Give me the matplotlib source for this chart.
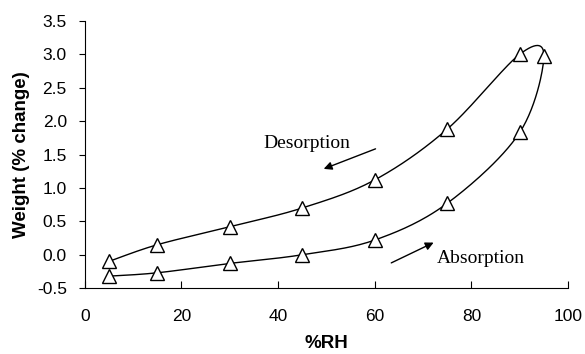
import numpy as np
import matplotlib
matplotlib.use("Agg")
import matplotlib.pyplot as plt

# sorption isotherm: absorption up to 95 %RH, then desorption back down
rh_abs = [5, 15, 30, 45, 60, 75, 90, 95]
wt_abs = [-0.32, -0.27, -0.13, 0.0, 0.22, 0.77, 1.83, 2.98]
rh_des = [90, 75, 60, 45, 30, 15, 5]
wt_des = [3.0, 1.88, 1.12, 0.70, 0.42, 0.15, -0.10]


def smooth(x, y, n=30):
    # uniform Catmull-Rom through the points (same look as a spreadsheet "smoothed line")
    p = np.column_stack([x, y]).astype(float)
    p = np.vstack([p[0], p, p[-1]])
    t = np.linspace(0, 1, n)[:, None]
    out = []
    for i in range(1, len(p) - 2):
        p0, p1, p2, p3 = p[i - 1], p[i], p[i + 1], p[i + 2]
        seg = 0.5 * (2 * p1 + (-p0 + p2) * t + (2 * p0 - 5 * p1 + 4 * p2 - p3) * t ** 2
                     + (-p0 + 3 * p1 - 3 * p2 + p3) * t ** 3)
        out.append(seg)
    out = np.vstack(out)
    return out[:, 0], out[:, 1]


plt.rcParams["font.family"] = ["Liberation Sans", "DejaVu Sans"]
fig = plt.figure(figsize=(5.85, 3.54), dpi=100)
ax = fig.add_axes([0.145, 0.186, 0.826, 0.755])

sx, sy = smooth(rh_abs + rh_des, wt_abs + wt_des)
ax.plot(sx, sy, color="black", lw=1.0)
ax.plot(rh_abs + rh_des, wt_abs + wt_des, ls="none", marker="^", ms=9.5,
        mfc="white", mec="black", mew=1.0)

ax.set_xlim(0, 100)
ax.set_ylim(-0.5, 3.5)
ax.set_xticks(range(0, 101, 20))
ax.set_yticks(np.arange(-0.5, 3.51, 0.5))
ax.yaxis.set_major_formatter(matplotlib.ticker.FormatStrFormatter("%.1f"))
ax.tick_params(axis="x", direction="in", length=5, labelsize=12.5, pad=15)
ax.tick_params(axis="y", direction="out", length=4, labelsize=12.5, pad=9)
for s in ("top", "right"):
    ax.spines[s].set_visible(False)

ax.set_xlabel("%RH", fontsize=13.5, fontweight="bold", labelpad=8)
ax.set_ylabel("Weight (% change)", fontsize=13.5, fontweight="bold", labelpad=5)

serif = ["Liberation Serif", "DejaVu Serif"]
ax.text(36.9, 1.67, "Desorption", family=serif, fontsize=14, va="center")
ax.text(72.9, -0.05, "Absorption", family=serif, fontsize=14, va="center")
ax.annotate("", xy=(48.9, 1.27), xytext=(60.7, 1.60),
            arrowprops=dict(arrowstyle="-|>", color="black", lw=1.0, mutation_scale=12))
ax.annotate("", xy=(72.7, 0.20), xytext=(62.9, -0.14),
            arrowprops=dict(arrowstyle="-|>", color="black", lw=1.0, mutation_scale=12))

fig.savefig("out.png", dpi=100)
